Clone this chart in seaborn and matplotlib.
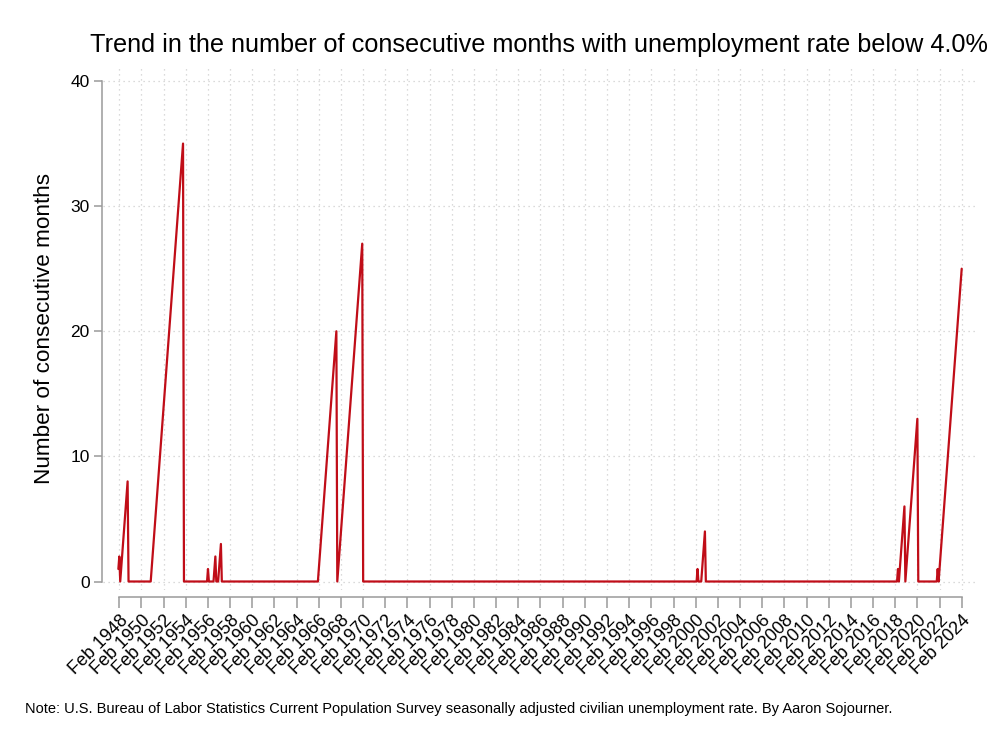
import numpy as np
import pandas as pd
import matplotlib
matplotlib.use("Agg")
import matplotlib.pyplot as plt
import seaborn as sns

# ---------------- data ----------------
first_month = "1948-01"
last_month = "2024-02"

# months where a spell of rate < 4.0% starts, and the running count of consecutive months
spell_starts = ["1948-01", "1948-04", "1951-01", "1956-02", "1956-09", "1957-02",
                "1966-02", "1967-11", "2000-04", "2000-09", "2018-05", "2018-07",
                "2019-02", "2021-12", "2022-02"]
spell_counts = [
    [1, 2],
    [1, 2, 3, 4, 5, 6, 7, 8],
    [1, 2, 3, 4, 5, 6, 7, 8, 9, 10, 11, 12, 13, 14, 15, 16, 17, 18, 19, 20,
     21, 22, 23, 24, 25, 26, 27, 28, 29, 30, 31, 32, 33, 34, 35],
    [1],
    [1, 2],
    [1, 2, 3],
    [1, 2, 3, 4, 5, 6, 7, 8, 9, 10, 11, 12, 13, 14, 15, 16, 17, 18, 19, 20],
    [1, 2, 3, 4, 5, 6, 7, 8, 9, 10, 11, 12, 13, 14, 15, 16, 17, 18, 19, 20,
     21, 22, 23, 24, 25, 26, 27],
    [1],
    [1, 2, 3, 4],
    [1],
    [1, 2, 3, 4, 5, 6],
    [1, 2, 3, 4, 5, 6, 7, 8, 9, 10, 11, 12, 13],
    [1],
    [1, 2, 3, 4, 5, 6, 7, 8, 9, 10, 11, 12, 13, 14, 15, 16, 17, 18, 19, 20,
     21, 22, 23, 24, 25],
]

x_tick_years = [1948, 1950, 1952, 1954, 1956, 1958, 1960, 1962, 1964, 1966, 1968,
                1970, 1972, 1974, 1976, 1978, 1980, 1982, 1984, 1986, 1988, 1990,
                1992, 1994, 1996, 1998, 2000, 2002, 2004, 2006, 2008, 2010, 2012,
                2014, 2016, 2018, 2020, 2022, 2024]
x_tick_labels = ["Feb %d" % y for y in x_tick_years]
y_ticks = [0, 10, 20, 30, 40]

title = "Trend in the number of consecutive months with unemployment rate below 4.0%"
y_label = "Number of consecutive months"
note = ("Note: U.S. Bureau of Labor Statistics Current Population Survey seasonally "
        "adjusted civilian unemployment rate. By Aaron Sojourner.")

# ---------------- build frame ----------------
months = pd.period_range(first_month, last_month, freq="M")
counts = pd.Series(0, index=months)
for start, vals in zip(spell_starts, spell_counts):
    idx = pd.period_range(pd.Period(start, "M"), periods=len(vals), freq="M")
    counts.loc[idx] = vals
df = pd.DataFrame({"t": months.year + (months.month - 1) / 12.0,
                   "n": counts.values})

# ---------------- style ----------------
sns.set_style("white")
plt.rcParams["font.family"] = ["Liberation Sans", "DejaVu Sans"]
plt.rcParams["text.color"] = "black"

W, H = 1000, 750
fig = plt.figure(figsize=(10, 7.5), dpi=100)
ax_l, ax_r, ax_t, ax_b = 103, 975, 65, 590
ax = fig.add_axes([ax_l / W, 1 - ax_b / H, (ax_r - ax_l) / W, (ax_b - ax_t) / H])

sns.lineplot(data=df, x="t", y="n", color="#c00d18", linewidth=1.6, ax=ax)

# scales: Feb 1948 at px 119.3, Feb 2024 at px 961.7 ; 0 at 581.5, 40 at 81
x0, x1 = 1948 + 1 / 12, 2024 + 1 / 12
pxx0, pxx1 = 119.3, 961.7
s = (pxx1 - pxx0) / (x1 - x0)
ax.set_xlim(x0 - (pxx0 - ax_l) / s, x1 + (ax_r - pxx1) / s)
py0, py40 = 581.5, 81
sy = (py0 - py40) / 40
ax.set_ylim(-(ax_b - py0) / sy, 40 + (py40 - ax_t) / sy)

xt = [y + 1 / 12 for y in x_tick_years]
ax.set_xticks(xt)
ax.set_xticklabels(x_tick_labels)
ax.set_yticks(y_ticks)
ax.set_yticklabels([str(v) for v in y_ticks])
ax.set_xlabel("")
ax.set_ylabel("")

spine_c = "#9a9a9a"
for side in ["top", "right"]:
    ax.spines[side].set_visible(False)
ax.spines["left"].set_bounds(0, 40)
ax.spines["left"].set_position(("outward", 0.5))
ax.spines["bottom"].set_bounds(x0, x1)
ax.spines["bottom"].set_position(("outward", 5))
for side in ["left", "bottom"]:
    ax.spines[side].set_color(spine_c)
    ax.spines[side].set_linewidth(1.1)

ax.tick_params(axis="y", length=6, width=1.1, color=spine_c, labelsize=12.5,
               pad=3, labelcolor="black", left=True)
ax.tick_params(axis="x", length=8, width=1.1, color=spine_c, labelsize=13,
               pad=3, labelcolor="black", bottom=True)
for lab in ax.get_xticklabels():
    lab.set_rotation(45)
    lab.set_ha("right")
    lab.set_va("top")
    lab.set_rotation_mode("anchor")

ax.grid(True, color="#cfcfcf", linestyle=(0, (1, 3)), linewidth=0.9)
ax.set_axisbelow(True)

fig.text(539 / W, 1 - 45 / H, title, ha="center", va="center", fontsize=18.2,
         color="black")
fig.text(45 / W, 1 - 328 / H, y_label, ha="center", va="center",
         rotation=90, fontsize=16.2, color="black")
fig.text(25 / W, 1 - 709 / H, note, ha="left", va="center", fontsize=10.5,
         color="black")

fig.savefig("out.png", dpi=100, facecolor="white")
